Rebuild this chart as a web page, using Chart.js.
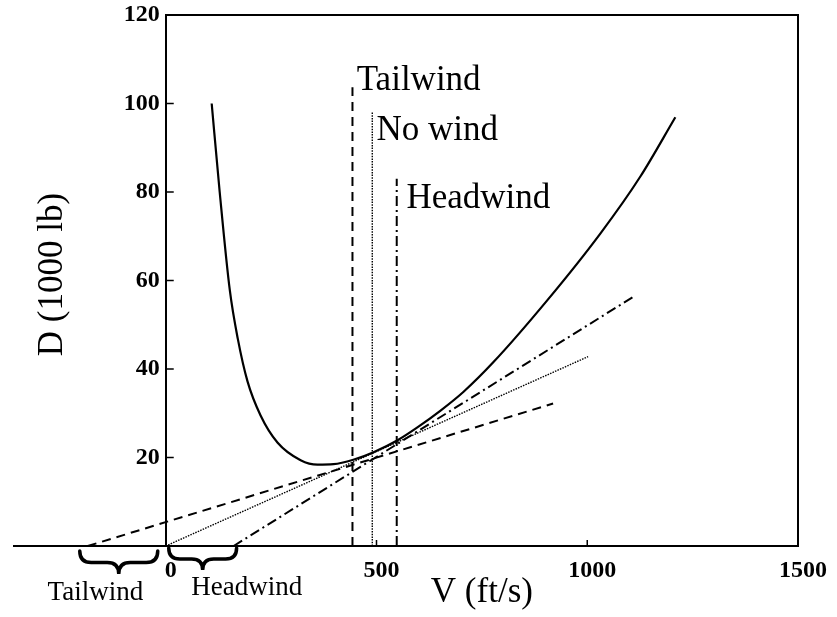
<!DOCTYPE html>
<html>
<head>
<meta charset="utf-8">
<script src="https://cdn.jsdelivr.net/npm/chart.js@4.4.0/dist/chart.umd.min.js"></script>
<style>
  html, body { margin: 0; padding: 0; background: #fff; }
</style>
</head>
<body>
<canvas id="dragChart" width="837" height="617"></canvas>
<script>
// drag curve, D (1000 lb) against V (ft/s)
const dragV = [109, 128, 152, 171, 194, 225, 265, 320, 360, 398, 445, 493, 550, 597, 652, 706, 777, 905, 1031, 1126, 1209];
const dragD = [100, 80, 57.8, 46.8, 37.2, 29.5, 23.4, 19.4, 18.4, 18.5, 19.5, 21.2, 23.9, 26.8, 30.6, 34.8, 41.5, 55.5, 70.6, 83.5, 96.9];

// tangent lines from the wind origin, and the best-speed verticals
const windNames = ['Tailwind', 'No wind', 'Headwind'];
const tangentV = [[-185, 919], [0, 1002], [161, 1109]];
const tangentD = [[0, 32.2], [0, 42.8], [0, 56.3]];
const bestV = [443, 490, 548];
const bestTop = [103.7, 98.1, 83];

const xTicks = [0, 500, 1000, 1500];
const yTicks = [20, 40, 60, 80, 100, 120];

// where the wind names sit (data units: left edge, baseline)
const nameAt = [[453, 103], [500, 91.8], [571, 76.3]];

const serif = '"Liberation Serif", "DejaVu Serif", serif';
const dashes = [[9, 6], [1.5, 1.2], [10, 4, 2, 4]];
const widths = [2, 1.4, 2];

const datasets = [{
    data: dragV.map((v, i) => ({ x: v, y: dragD[i] })),
    borderColor: '#000',
    borderWidth: 2.2,
    pointRadius: 0,
    cubicInterpolationMode: 'monotone'
}];
windNames.forEach((name, i) => {
    datasets.push({
        data: tangentV[i].map((v, j) => ({ x: v, y: tangentD[i][j] })),
        borderColor: '#000',
        borderWidth: widths[i],
        borderDash: dashes[i],
        pointRadius: 0
    });
    datasets.push({
        data: [{ x: bestV[i], y: 0 }, { x: bestV[i], y: bestTop[i] }],
        borderColor: '#000',
        borderWidth: widths[i],
        borderDash: dashes[i],
        pointRadius: 0
    });
});

function drawBrace(ctx, xa, xb, top, h) {
    const m = (xa + xb) / 2, q = h / 2;
    ctx.beginPath();
    ctx.moveTo(xa, top);
    ctx.quadraticCurveTo(xa, top + q, xa + q, top + q);
    ctx.lineTo(m - q, top + q);
    ctx.quadraticCurveTo(m, top + q, m, top + h);
    ctx.quadraticCurveTo(m, top + q, m + q, top + q);
    ctx.lineTo(xb - q, top + q);
    ctx.quadraticCurveTo(xb, top + q, xb, top);
    ctx.stroke();
}

const framePlugin = {
    id: 'frame',
    afterDraw(chart) {
        const { ctx, scales: { x, y } } = chart;
        const x0 = x.getPixelForValue(0), x1 = x.getPixelForValue(1500);
        const yTop = y.getPixelForValue(120), yBot = y.getPixelForValue(0);
        ctx.save();
        ctx.strokeStyle = '#000';
        ctx.fillStyle = '#000';

        // top and right edges of the box
        ctx.lineWidth = 2;
        ctx.beginPath();
        ctx.moveTo(x0, yTop);
        ctx.lineTo(x1, yTop);
        ctx.lineTo(x1, yBot);
        ctx.stroke();

        // inward tick marks
        ctx.lineWidth = 1.5;
        ctx.beginPath();
        yTicks.slice(0, -1).forEach(v => {
            const p = y.getPixelForValue(v);
            ctx.moveTo(x0, p);
            ctx.lineTo(x0 + 8, p);
        });
        xTicks.slice(1, -1).forEach(v => {
            const p = x.getPixelForValue(v);
            ctx.moveTo(p, yBot);
            ctx.lineTo(p, yBot - 6);
        });
        ctx.stroke();

        // wind names at the best-speed lines
        ctx.font = '35px ' + serif;
        ctx.textAlign = 'left';
        ctx.textBaseline = 'alphabetic';
        windNames.forEach((name, i) => {
            ctx.fillText(name, x.getPixelForValue(nameAt[i][0]), y.getPixelForValue(nameAt[i][1]));
        });

        // braces under the axis: wind speed ranges
        ctx.lineWidth = 3.5;
        ctx.lineCap = 'round';
        drawBrace(ctx, x.getPixelForValue(tangentV[0][0]) - 8, x0 - 8, yBot + 5, 23);
        drawBrace(ctx, x0 + 3, x.getPixelForValue(tangentV[2][0]) + 3, yBot + 2, 22);
        ctx.font = '27px ' + serif;
        ctx.textAlign = 'center';
        ctx.fillText('Tailwind', x.getPixelForValue(-167), yBot + 54);
        ctx.fillText('Headwind', x.getPixelForValue(192), yBot + 49);

        // axis titles
        ctx.font = '35px ' + serif;
        ctx.fillText('V (ft/s)', x.getPixelForValue(750), yBot + 56);
        ctx.translate(62, (yTop + yBot) / 2 - 6);
        ctx.rotate(-Math.PI / 2);
        ctx.fillText('D (1000 lb)', 0, 0);
        ctx.restore();
    }
};

const tickFont = { family: serif, size: 24, weight: 'bold', lineHeight: 1 };

new Chart(document.getElementById('dragChart'), {
    type: 'line',
    data: { datasets: datasets },
    options: {
        responsive: false,
        animation: false,
        devicePixelRatio: 1,
        layout: { padding: { left: 14, right: 39, top: 13, bottom: 21 } },
        plugins: { legend: { display: false }, tooltip: { enabled: false } },
        scales: {
            x: {
                type: 'linear',
                min: -360,
                max: 1500,
                afterBuildTicks: s => { s.ticks = xTicks.map(v => ({ value: v })); },
                grid: { display: false, drawTicks: false },
                border: { display: true, color: '#000', width: 2 },
                ticks: { color: '#000', font: tickFont, padding: 13, labelOffset: 5, maxRotation: 0, autoSkip: false,
                         callback: v => String(v) }
            },
            y: {
                type: 'linear',
                min: 0,
                max: 120,
                position: { x: 0 },
                afterBuildTicks: s => { s.ticks = yTicks.map(v => ({ value: v })); },
                grid: { display: false, drawTicks: false },
                border: { display: true, color: '#000', width: 2 },
                ticks: { color: '#000', font: tickFont, autoSkip: false, callback: v => v + ' ' }
            }
        }
    },
    plugins: [framePlugin]
});
</script>
</body>
</html>
